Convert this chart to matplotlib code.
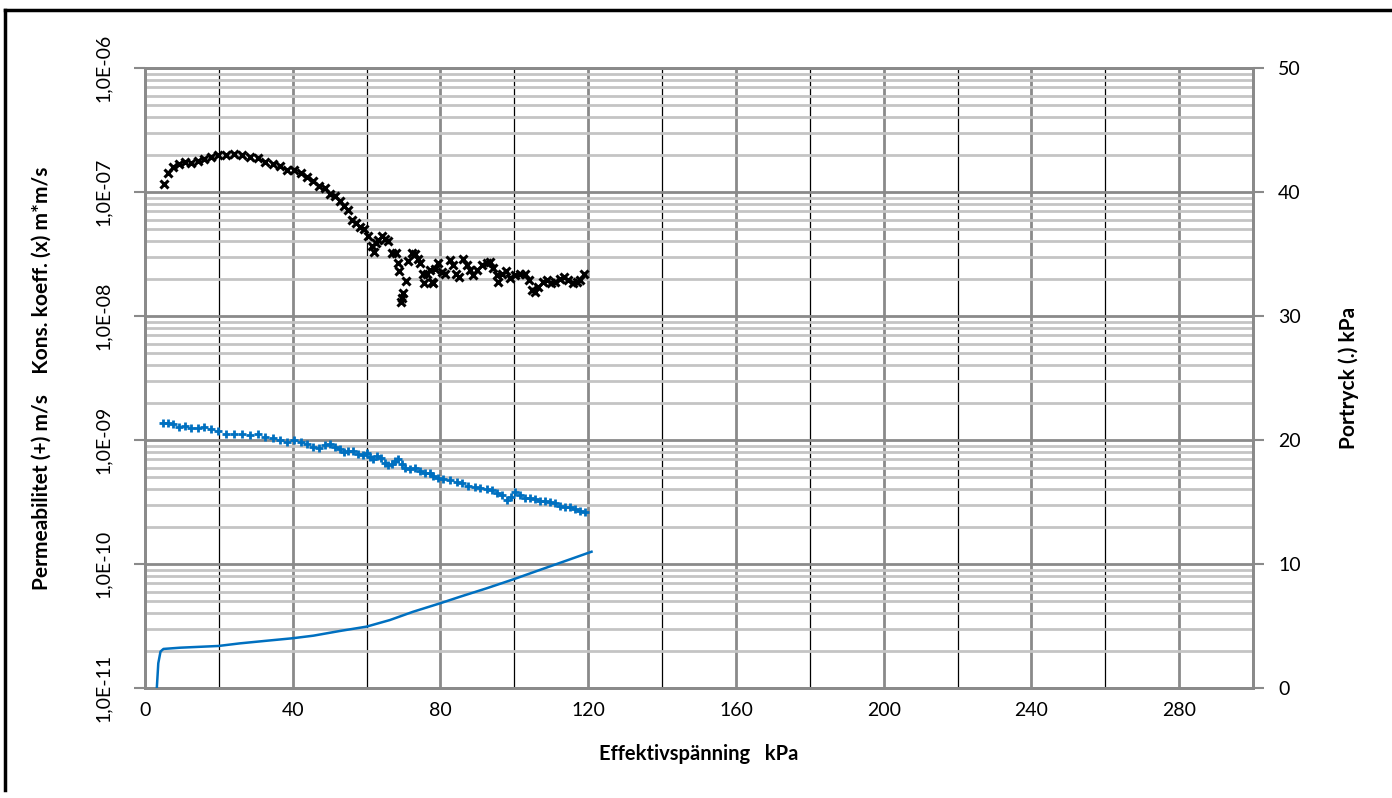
import matplotlib
matplotlib.use("Agg")
import matplotlib.pyplot as plt
import numpy as np
from matplotlib.ticker import FixedLocator, FuncFormatter, NullFormatter
from matplotlib.lines import Line2D

# ---- data ----
cv_x = [5.1, 6.2, 7.7, 9.2, 10.8, 12.5, 14.3, 16.1, 17.9, 19.9, 21.9, 24.1, 26.2, 28.4, 30.5,
        32.6, 34.6, 36.6, 38.5, 40.3, 42.2, 43.9, 45.6, 47.2, 48.7, 50.1, 51.4, 52.8, 53.9, 54.9,
        56.0, 57.0, 58.2, 59.3, 60.3, 61.5, 62.1, 62.5, 63.2, 64.1, 65.0, 65.9, 66.8, 68.0, 68.4,
        68.8, 70.6, 69.9, 69.5, 69.2, 71.3, 72.2, 73.1, 74.0, 74.5, 75.2, 75.5, 76.3, 77.2, 77.8,
        78.0, 78.5, 79.4, 80.3, 81.2, 82.6, 83.5, 84.2, 85.1, 86.2, 87.1, 88.0, 88.7, 89.8, 91.2,
        92.5, 93.4, 94.3, 95.2, 95.7, 96.6, 97.7, 98.8, 100.2, 101.5, 102.9, 104.1, 104.7, 105.6,
        106.5, 107.7, 108.8, 109.8, 111.0, 112.4, 113.5, 114.6, 115.8, 116.9, 117.8, 118.9]
cv_y = [1.16e-7, 1.41e-7, 1.60e-7, 1.67e-7, 1.73e-7, 1.71e-7, 1.77e-7, 1.85e-7, 1.91e-7, 2.00e-7,
        1.99e-7, 2.02e-7, 2.00e-7, 1.91e-7, 1.87e-7, 1.75e-7, 1.67e-7, 1.61e-7, 1.50e-7, 1.50e-7,
        1.41e-7, 1.33e-7, 1.23e-7, 1.12e-7, 1.07e-7, 9.7e-8, 9.2e-8, 8.5e-8, 7.7e-8, 7.2e-8,
        6.0e-8, 5.6e-8, 5.2e-8, 5.0e-8, 4.4e-8, 3.7e-8, 3.3e-8, 3.9e-8, 4.1e-8, 4.4e-8,
        4.2e-8, 4.0e-8, 3.2e-8, 3.2e-8, 2.7e-8, 2.3e-8, 1.9e-8, 1.52e-8, 1.39e-8, 1.30e-8,
        2.78e-8, 3.2e-8, 3.15e-8, 2.9e-8, 2.7e-8, 2.17e-8, 1.84e-8, 2.2e-8, 2.35e-8, 1.88e-8,
        1.84e-8, 2.4e-8, 2.7e-8, 2.28e-8, 2.2e-8, 2.83e-8, 2.58e-8, 2.2e-8, 2.07e-8, 2.88e-8,
        2.58e-8, 2.35e-8, 2.14e-8, 2.35e-8, 2.58e-8, 2.66e-8, 2.71e-8, 2.42e-8, 2.14e-8, 1.89e-8,
        2.2e-8, 2.3e-8, 2.01e-8, 2.14e-8, 2.17e-8, 2.18e-8, 1.95e-8, 1.62e-8, 1.57e-8,
        1.72e-8, 1.89e-8, 1.95e-8, 1.84e-8, 1.89e-8, 1.98e-8, 2.05e-8, 1.95e-8, 1.84e-8, 1.89e-8,
        1.95e-8, 2.18e-8]

k_x = [5.0, 6.3, 7.7, 9.2, 10.8, 12.5, 14.3, 16.1, 17.9, 19.9, 21.9, 24.1, 26.2, 28.4, 30.5,
       32.6, 34.6, 36.6, 38.5, 40.3, 42.2, 43.9, 45.6, 47.2, 48.7, 50.1, 51.4, 52.8, 53.9, 55.0,
       56.4, 57.8, 59.1, 60.0, 60.9, 61.8, 62.9, 63.8, 65.0, 65.9, 66.8, 67.7, 68.6, 69.5, 70.4,
       71.8, 73.1, 74.5, 75.8, 77.2, 78.0, 79.4, 80.8, 82.6, 84.4, 85.7, 87.5, 89.4, 90.7, 92.5,
       93.9, 95.2, 96.6, 97.9, 99.0, 100.2, 101.5, 102.9, 104.2, 105.6, 106.9, 108.3, 109.7,
       111.0, 112.4, 113.7, 115.1, 116.4, 117.8, 119.1]
k_y = [1.38e-9, 1.36e-9, 1.34e-9, 1.28e-9, 1.30e-9, 1.26e-9, 1.26e-9, 1.28e-9, 1.22e-9, 1.19e-9,
       1.12e-9, 1.12e-9, 1.11e-9, 1.10e-9, 1.11e-9, 1.06e-9, 1.03e-9, 1.00e-9, 0.969e-9, 1.00e-9,
       0.969e-9, 0.923e-9, 0.883e-9, 0.867e-9, 0.911e-9, 0.928e-9, 0.883e-9, 0.841e-9, 0.805e-9,
       0.815e-9, 0.815e-9, 0.767e-9, 0.757e-9, 0.781e-9, 0.733e-9, 0.699e-9, 0.743e-9, 0.712e-9,
       0.656e-9, 0.629e-9, 0.637e-9, 0.677e-9, 0.699e-9, 0.637e-9, 0.591e-9, 0.584e-9, 0.591e-9,
       0.562e-9, 0.545e-9, 0.539e-9, 0.513e-9, 0.497e-9, 0.482e-9, 0.476e-9, 0.461e-9, 0.448e-9,
       0.428e-9, 0.420e-9, 0.408e-9, 0.400e-9, 0.395e-9, 0.376e-9, 0.360e-9, 0.328e-9, 0.349e-9,
       0.383e-9, 0.360e-9, 0.343e-9, 0.339e-9, 0.333e-9, 0.322e-9, 0.322e-9, 0.318e-9, 0.309e-9,
       0.294e-9, 0.290e-9, 0.290e-9, 0.278e-9, 0.268e-9, 0.264e-9]

u_x = [3.2, 3.6, 4.2, 5.0, 9.5, 19.9, 25.7, 32.9, 39.9, 45.6, 52.8, 60.0, 66.3, 72.6, 79.9,
       85.3, 92.5, 99.7, 106.9, 113.3, 120.9]
u_y = [0.0, 2.0, 2.94, 3.15, 3.25, 3.39, 3.60, 3.81, 4.01, 4.22, 4.60, 4.95, 5.48, 6.15, 6.83,
       7.36, 8.04, 8.76, 9.52, 10.19, 10.99]

x_major = [0, 40, 80, 120, 160, 200, 240, 280]
x_minor = [20, 60, 100, 140, 180, 220, 260, 300]
y_decades = [1e-11, 1e-10, 1e-9, 1e-8, 1e-7, 1e-6]
right_ticks = [0, 10, 20, 30, 40, 50]

# ---- style ----
plt.rcParams['font.family'] = ['Lato', 'DejaVu Sans']
BLUE = '#0070C0'
GRID_MAJ = '#8a8a8a'
GRID_MIN = '#c4c4c4'

fig = plt.figure(figsize=(13.92, 7.98), dpi=100)
ax = fig.add_axes([145/1392, 1-688/798, (1253-145)/1392, (688-68)/798])
ax2 = ax.twinx()

ax.set_yscale('log')
ax.set_ylim(y_decades[0], y_decades[-1])
ax.set_xlim(0, 300)
ax2.set_ylim(right_ticks[0], right_ticks[-1])

# ticks / grid
ax.xaxis.set_major_locator(FixedLocator(x_major))
ax.xaxis.set_minor_locator(FixedLocator(x_minor))
ax.xaxis.set_minor_formatter(NullFormatter())
y_minor = [d * m for d in y_decades[:-1] for m in range(2, 10)]
ax.yaxis.set_major_locator(FixedLocator(y_decades))
ax.yaxis.set_minor_locator(FixedLocator(y_minor))
ax.grid(True, which='major', axis='x', color=GRID_MAJ, lw=2.0, zorder=0)
ax.grid(True, which='minor', axis='x', color='black', lw=0.9, zorder=0)
ax.grid(True, which='major', axis='y', color=GRID_MAJ, lw=2.0, zorder=0)
ax.grid(True, which='minor', axis='y', color=GRID_MIN, lw=2.0, zorder=0)
ax.set_axisbelow(True)

ax.yaxis.set_major_formatter(FuncFormatter(lambda v, p: "1,0E-%02d" % int(round(-np.log10(v)))))
ax.yaxis.set_minor_formatter(NullFormatter())

ax.tick_params(axis='y', which='major', length=8, width=1.5, color=GRID_MAJ, labelsize=14,
               pad=16, labelrotation=90)
ax.tick_params(axis='y', which='minor', length=0)
ax.tick_params(axis='x', which='both', length=0, labelsize=14, pad=10)
plt.setp(ax.get_yticklabels(), va='center')

ax2.yaxis.set_major_locator(FixedLocator(right_ticks))
ax2.tick_params(axis='y', length=8, width=1.5, color=GRID_MAJ, labelsize=14, pad=10)

for a in (ax, ax2):
    for s in a.spines.values():
        s.set_color(GRID_MAJ)
        s.set_linewidth(2.0)

# data
ax.plot(cv_x, cv_y, ls='none', marker='x', ms=5.5, mew=2.2, color='black', zorder=3)
ax.plot(k_x, k_y, ls='none', marker='+', ms=6, mew=2.0, color=BLUE, zorder=3)
ax2.plot(u_x, u_y, color=BLUE, lw=1.8, zorder=3)

ax.set_xlabel("Effektivspänning   kPa", fontsize=14.5, fontweight='bold', labelpad=18)
ax.set_ylabel("Permeabilitet (+) m/s    Kons. koeff. (x) m*m/s", fontsize=15,
              fontweight='bold', labelpad=31)
ax2.set_ylabel("Portryck (.) kPa", fontsize=15, fontweight='bold', labelpad=27)

# outer border (top and left)
fig.add_artist(Line2D([5/1392, 1.0], [1-10/798, 1-10/798], transform=fig.transFigure,
                      color='black', lw=2.5))
fig.add_artist(Line2D([5/1392, 5/1392], [1-10/798, 1-790/798], transform=fig.transFigure,
                      color='black', lw=2.5))

fig.savefig("out.png", dpi=100)
